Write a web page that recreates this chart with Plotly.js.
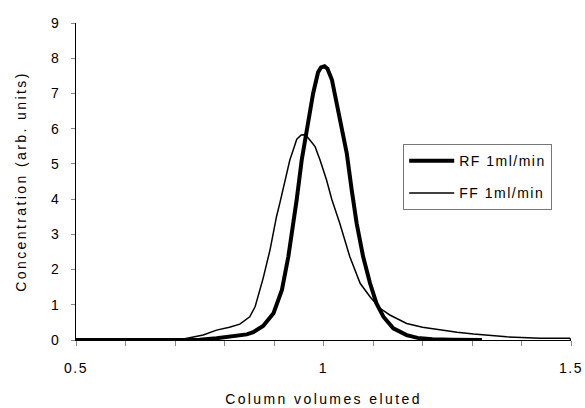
<!DOCTYPE html>
<html>
<head>
<meta charset="utf-8">
<script src="https://cdn.plot.ly/plotly-3.0.1.min.js"></script>
<style>
html,body{margin:0;padding:0;background:#fff;}
#chart{width:585px;height:408px;}
svg text{letter-spacing:1.5px;}
#chart .xtitle, #chart .ytitle{letter-spacing:2.4px;}
</style>
</head>
<body>
<div id="chart"></div>
<script>
// RF 1ml/min (thick)
const rfX = [0.50,0.70,0.75,0.784,0.82,0.845,0.858,0.878,0.899,0.916,0.929,0.939,0.946,0.956,0.963,0.969,0.979,0.989,0.995,1.002,1.008,1.017,1.027,1.037,1.047,1.057,1.067,1.080,1.094,1.107,1.121,1.141,1.168,1.19,1.22,1.26,1.32];
const rfY = [0,0,0.01,0.05,0.10,0.16,0.22,0.40,0.76,1.42,2.37,3.31,4.0,5.11,5.7,6.2,7.0,7.6,7.74,7.77,7.7,7.39,6.72,6.06,5.30,4.26,3.31,2.37,1.61,1.04,0.66,0.33,0.14,0.06,0.02,0.01,0];
// FF 1ml/min (thin)
const ffX = [0.50,0.70,0.717,0.757,0.784,0.81,0.831,0.845,0.851,0.862,0.872,0.878,0.892,0.899,0.905,0.912,0.919,0.926,0.932,0.939,0.946,0.955,0.963,0.970,0.983,0.993,1.006,1.017,1.033,1.053,1.074,1.094,1.114,1.134,1.168,1.20,1.235,1.27,1.303,1.34,1.37,1.40,1.437,1.497,1.50];
const ffY = [0,0,0.03,0.14,0.28,0.36,0.45,0.58,0.66,0.95,1.45,1.75,2.56,3.1,3.5,3.9,4.35,4.8,5.11,5.4,5.70,5.82,5.83,5.72,5.49,5.11,4.55,3.98,3.31,2.37,1.61,1.23,0.90,0.71,0.47,0.36,0.28,0.22,0.17,0.12,0.09,0.07,0.05,0.05,0];

const xTickVals = [0.5,1,1.5];
const xTickText = ['0.5','1','1.5'];
const yTickVals = [0,1,2,3,4,5,6,7,8,9];
const yRange = [0,9];

const fontFam = 'Liberation Sans, Arial, sans-serif';
const traces = [
  {x: rfX, y: rfY, type:'scatter', mode:'lines', name:'RF 1ml/min', legendgroup:'a', line:{color:'#000', width:4}},
  {x: ffX, y: ffY, type:'scatter', mode:'lines', name:'FF 1ml/min', legendgroup:'b', yaxis:'y2', line:{color:'#000', width:1.5}}
];
const layout = {
  width:585, height:408,
  margin:{l:76, r:14, t:23, b:68},
  paper_bgcolor:'#fff', plot_bgcolor:'#fff',
  font:{family:fontFam, size:14, color:'#000'},
  showlegend:true,
  legend:{x:0.661, y:0.618, xanchor:'left', yanchor:'top', bgcolor:'#fff', bordercolor:'#777', borderwidth:1,
          font:{family:fontFam, size:14, color:'#000'}, itemwidth:45, traceorder:'grouped', tracegroupgap:11},
  xaxis:{range:[0.5,1.5], tickvals:xTickVals, ticktext:xTickText, ticks:'outside', ticklen:5, tickcolor:'#888',
         showline:true, linecolor:'#000', linewidth:1, showgrid:false, zeroline:false, ticklabelstandoff:10,
         minor:{dtick:0.1, tick0:0.5, ticks:'outside', ticklen:5, tickcolor:'#888', showgrid:false},
         title:{text:'Column volumes eluted', standoff:19, font:{family:fontFam, size:14}}},
  yaxis:{range:yRange, tickvals:yTickVals, ticks:'outside', ticklen:12, tickcolor:'rgba(0,0,0,0)',
         showline:true, linecolor:'#000', linewidth:1, showgrid:false, zeroline:false,
         title:{text:'Concentration (arb. units)', standoff:21, font:{family:fontFam, size:14}}},
  yaxis2:{range:yRange, tickvals:yTickVals, overlaying:'y', side:'left', ticks:'outside', ticklen:4, tickcolor:'#888',
          showticklabels:false, showline:false, showgrid:false, zeroline:false}
};
Plotly.newPlot('chart', traces, layout, {displayModeBar:false, staticPlot:true});
</script>
</body>
</html>
